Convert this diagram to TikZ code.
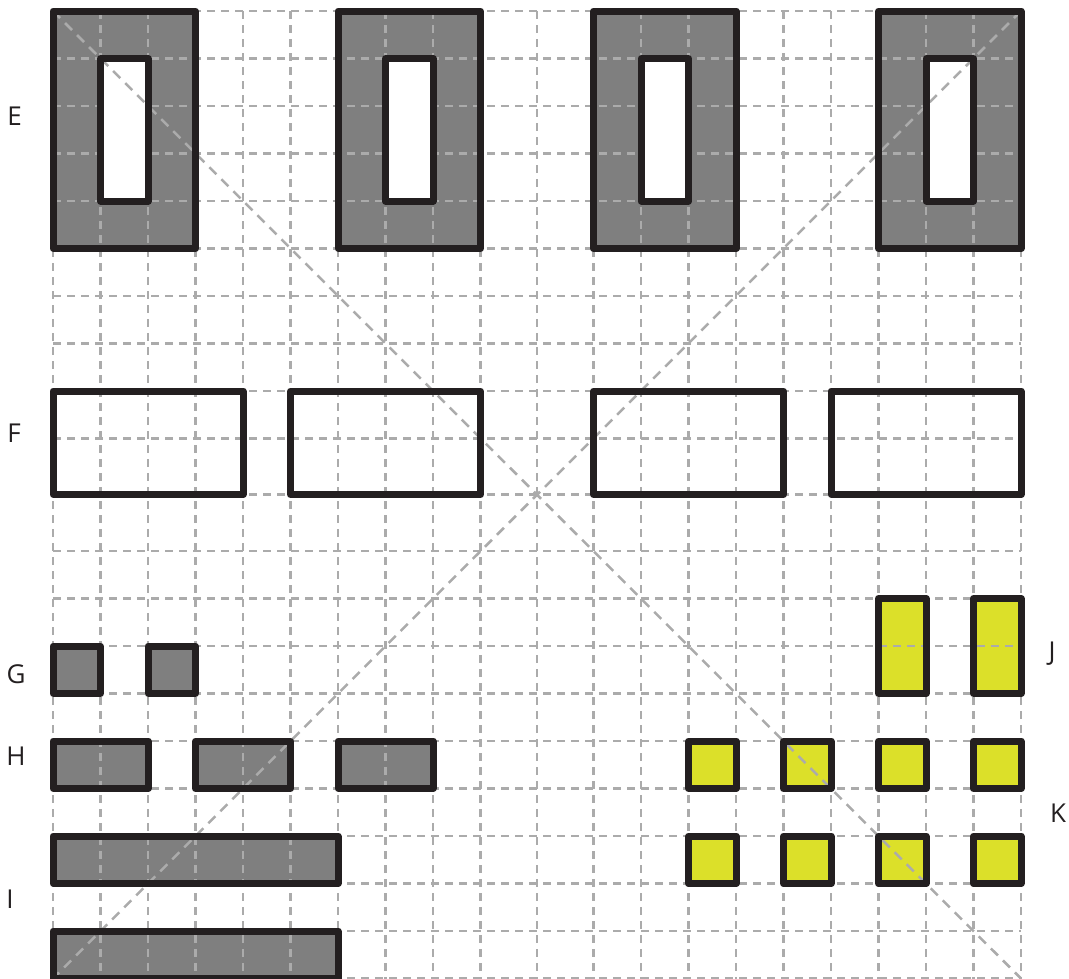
\documentclass[tikz,border=0pt]{standalone}
\usepackage{fontspec}
\setsansfont{Open Sans}
\definecolor{boxgray}{HTML}{7F7F7F}
\definecolor{boxyellow}{HTML}{DCE029}
\definecolor{edgeblack}{HTML}{231F20}
\definecolor{gridgray}{HTML}{ABABAB}
\tikzset{cell/.style={draw=edgeblack,line width=7pt,line join=round},
         gridline/.style={gridgray,line width=2.5pt,dash pattern=on 8pt off 6pt},
         diagline/.style={gridgray,line width=2.5pt,dash pattern=on 10pt off 7pt},
         rowlabel/.style={font=\sffamily\fontsize{26}{26}\selectfont,text=edgeblack,
           inner sep=0pt,anchor=base}}

\begin{document}
\begin{tikzpicture}[x=1pt,y=-1pt]
  \useasboundingbox (0,0) rectangle (1069,978);
  % fills
  \foreach \x in {53,338,593.5,878.5}
    \fill[boxgray] (\x,11) rectangle ++(142.5,237.5);
  \fill[boxgray] (53,646) rectangle ++(47.5,47.5) (148,646) rectangle ++(47.5,47.5);
  \foreach \x in {53,195.5,338}
    \fill[boxgray] (\x,741) rectangle ++(95,47.5);
  \fill[boxgray] (53,836) rectangle (338,883.5) (53,931) rectangle (338,978.5);
  \foreach \x in {878.5,973.5}
    \fill[boxyellow] (\x,598.5) rectangle ++(47.5,95);
  \foreach \x in {688.5,783.5,878.5,973.5}
    \foreach \y in {741,836}
      \fill[boxyellow] (\x,\y) rectangle ++(47.5,47.5);
  % grid
  \foreach \x in {53,100.5,148,195.5,243,290.5,338,385.5,433,480.5,537,
                  593.5,641,688.5,736,783.5,831,878.5,926,973.5,1021}
    \draw[gridline] (\x,11) -- (\x,978.5);
  \foreach \y in {11,58.5,106,153.5,201,248.5,296,343.5,391,438.5,494.5,
                  551,598.5,646,693.5,741,788.5,836,883.5,931,978.5}
    \draw[gridline] (53,\y) -- (1021,\y);
  % windows of the E frames
  \foreach \x in {53,338,593.5,878.5}
    \fill[white] (\x+47.5,58.5) rectangle ++(47.5,142.5);
  \draw[diagline] (53,11) -- (1021,978.5) (1021,11) -- (53,978.5);
  % outlines
  \foreach \x in {53,338,593.5,878.5}{
    \draw[cell] (\x,11) rectangle ++(142.5,237.5);
    \draw[cell] (\x+47.5,58.5) rectangle ++(47.5,142.5);
  }
  \foreach \x/\w in {53/190,290.5/190,593.5/190,831/190}
    \draw[cell] (\x,391) rectangle ++(\w,103.5);
  \draw[cell] (53,646) rectangle ++(47.5,47.5) (148,646) rectangle ++(47.5,47.5);
  \foreach \x in {53,195.5,338}
    \draw[cell] (\x,741) rectangle ++(95,47.5);
  \draw[cell] (53,836) rectangle (338,883.5) (53,931) rectangle (338,978.5);
  \foreach \x in {878.5,973.5}
    \draw[cell] (\x,598.5) rectangle ++(47.5,95);
  \foreach \x in {688.5,783.5,878.5,973.5}
    \foreach \y in {741,836}
      \draw[cell] (\x,\y) rectangle ++(47.5,47.5);
  % row letters
  \node[rowlabel] (lblE) at (14.5,125) {E};
  \node[rowlabel] (lblF) at (14,442) {F};
  \node[rowlabel] (lblG) at (16,683) {G};
  \node[rowlabel] (lblH) at (16,765) {H};
  \node[rowlabel] (lblI) at (10,908) {I};
  \node[rowlabel] (lblJ) at (1052,660) {J};
  \node[rowlabel] (lblK) at (1058,822) {K};
\end{tikzpicture}
\end{document}
